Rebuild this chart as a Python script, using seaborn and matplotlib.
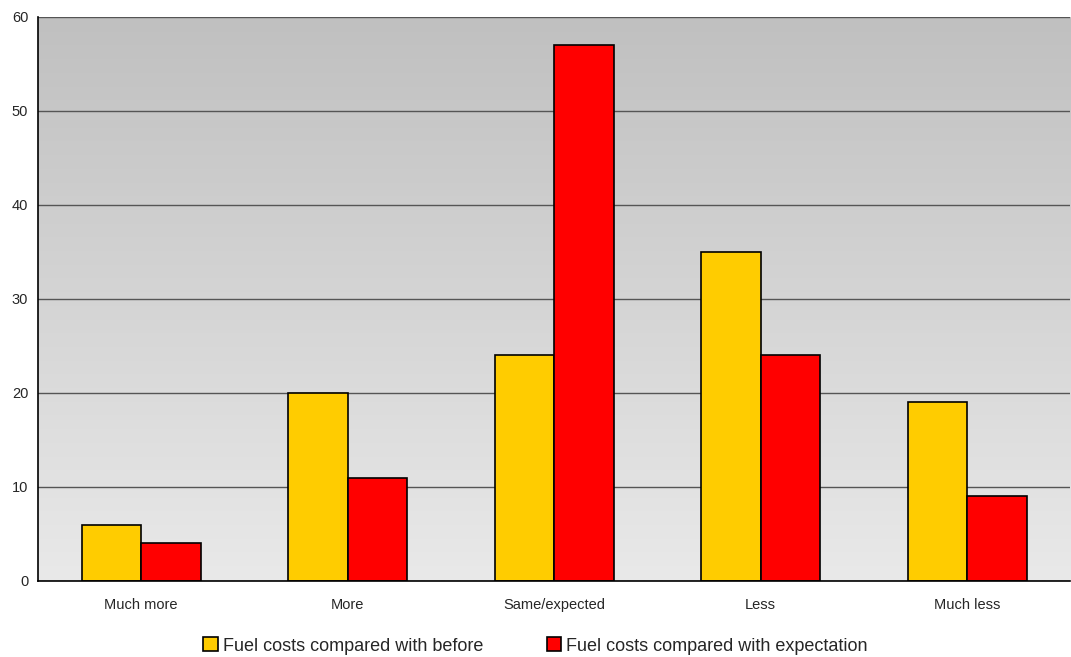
import numpy as np
import pandas as pd
import matplotlib
matplotlib.use("Agg")
import matplotlib.pyplot as plt
import seaborn as sns

categories = ["Much more", "More", "Same/expected", "Less", "Much less"]
before = [6, 20, 24, 35, 19]
expectation = [4, 11, 57, 24, 9]
series_names = ["Fuel costs compared with before", "Fuel costs compared with expectation"]
colors = ["#FFCC00", "#FF0000"]

df = pd.DataFrame({
    "cat": categories * 2,
    "value": before + expectation,
    "series": [series_names[0]] * 5 + [series_names[1]] * 5,
})

sns.set_style("white")
plt.rcParams["font.family"] = ["Liberation Sans", "DejaVu Sans"]

fig = plt.figure(figsize=(10.71, 6.57), dpi=100)
ax = fig.add_axes([38 / 1071, 1 - 581 / 657, 1 - 38 / 1071 - 0.0005, (581 - 17) / 657])

sns.barplot(data=df, x="cat", y="value", hue="series", palette=colors,
            width=0.575, edgecolor="black", linewidth=1.2, saturation=1,
            ax=ax, zorder=3)

# gradient background: darker at top, lighter at bottom
grad = np.linspace(0, 1, 256).reshape(-1, 1)
cmap = matplotlib.colors.LinearSegmentedColormap.from_list("bg", ["#c0c0c0", "#e9e9e9"])
ax.imshow(grad, aspect="auto", cmap=cmap, extent=[-0.5, 4.5, 0, 60], origin="upper",
          zorder=0, interpolation="bilinear")

ax.set_xlim(-0.5, 4.5)
ax.set_ylim(0, 60)
ax.set_yticks(range(0, 61, 10))
ax.yaxis.grid(True, color="#555555", linewidth=1)
for line in ax.get_ygridlines():
    line.set_zorder(1)

ax.set_xticks(range(5))
ax.set_xticklabels(categories, fontsize=10.5)
ax.set_xticks(np.arange(-0.5, 5, 1), minor=True)
ax.tick_params(axis="x", which="major", length=0, pad=12)
ax.tick_params(axis="x", which="minor", length=5, direction="out", color="black", width=1)
ax.tick_params(axis="y", length=5, direction="out", color="black", width=1, labelsize=10.5, pad=2)
ax.set_xlabel("")
ax.set_ylabel("")

for side in ["top", "right"]:
    ax.spines[side].set_visible(False)
for side in ["left", "bottom"]:
    ax.spines[side].set_color("black")
    ax.spines[side].set_linewidth(1.2)
    ax.spines[side].set_zorder(4)

leg = ax.legend(loc="center", bbox_to_anchor=(0.5, (657 - 646) / 657), bbox_transform=fig.transFigure,
                ncol=2, frameon=False,
                handlelength=0.8, handleheight=0.8, handletextpad=0.3, columnspacing=3.5,
                prop={"size": 13})

fig.savefig("out.png", dpi=100)
